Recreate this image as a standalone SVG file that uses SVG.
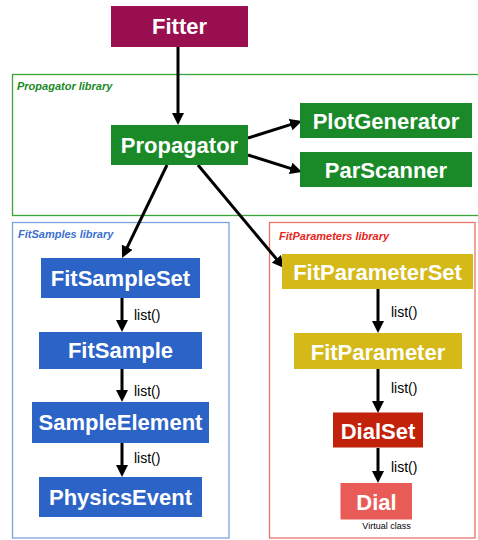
<svg xmlns="http://www.w3.org/2000/svg" width="478" height="540" viewBox="0 0 478 540">
<defs>
<marker id="ah" viewBox="0 0 12 12" refX="4" refY="6" markerWidth="12" markerHeight="12" markerUnits="userSpaceOnUse" orient="auto">
<path d="M0,0 L12,6 L0,12 z" fill="#000"/>
</marker>
<style>
.lib{fill:none;stroke-width:1.3}
.libt{font-family:"Liberation Sans",Arial,sans-serif;font-size:11px;font-weight:bold;font-style:italic}
.nt{font-family:"Liberation Sans",Arial,sans-serif;font-size:22px;font-weight:bold;fill:#fff;text-anchor:middle}
.lt{font-family:"Liberation Sans",Arial,sans-serif;font-size:14px;fill:#000}
.vc{font-family:"Liberation Sans",Arial,sans-serif;font-size:9px;fill:#000;text-anchor:middle}
.c line{stroke:#000;stroke-width:3;marker-end:url(#ah)}
</style>
</defs>
<rect width="478" height="540" fill="#fff"/>
<g id="propagator-library">
<rect class="lib" x="12.5" y="74.5" width="470" height="141" stroke="#3aa53a"/>
<text class="libt" x="17" y="90" fill="#1a8a26">Propagator library</text>
</g>
<g id="fitsamples-library">
<rect class="lib" x="12.5" y="222.5" width="216.5" height="315.5" stroke="#7ca3dd"/>
<text class="libt" x="18" y="238" fill="#3b70cf">FitSamples library</text>
</g>
<g id="fitparameters-library">
<rect class="lib" x="269.5" y="222.5" width="205.5" height="315.5" stroke="#e8776a"/>
<text class="libt" x="279" y="240" fill="#e8251b">FitParameters library</text>
</g>
<g class="c" id="connectors">
<line x1="178" y1="47" x2="178" y2="117"/>
<line x1="248" y1="138" x2="294.4" y2="123.4"/>
<line x1="248" y1="155" x2="294.4" y2="169.6"/>
<line x1="167" y1="165" x2="125.5" y2="250.8"/>
<line x1="198" y1="165" x2="278.9" y2="261.9"/>
<line x1="122" y1="298" x2="122" y2="324"/>
<line x1="122" y1="369" x2="122" y2="394"/>
<line x1="122" y1="443" x2="122" y2="469"/>
<line x1="378" y1="289" x2="378" y2="325"/>
<line x1="378" y1="369" x2="378" y2="405"/>
<line x1="378" y1="448" x2="378" y2="475"/>
</g>
<g id="connector-labels">
<text class="lt" x="134" y="320">list()</text>
<text class="lt" x="134" y="396">list()</text>
<text class="lt" x="134" y="463">list()</text>
<text class="lt" x="391" y="317">list()</text>
<text class="lt" x="391" y="393">list()</text>
<text class="lt" x="391" y="472">list()</text>
</g>
<g id="Fitter"><rect x="111" y="6" width="137" height="41" fill="#990f50"/><text class="nt" x="179.5" y="34">Fitter</text></g>
<g id="Propagator"><rect x="111" y="125" width="137" height="40" fill="#198a27"/><text class="nt" x="179.5" y="152.5">Propagator</text></g>
<g id="PlotGenerator"><rect x="300" y="103" width="172" height="35" fill="#198a27"/><text class="nt" x="386" y="129">PlotGenerator</text></g>
<g id="ParScanner"><rect x="300" y="152" width="172" height="35" fill="#198a27"/><text class="nt" x="386" y="178">ParScanner</text></g>
<g id="FitSampleSet"><rect x="41" y="258" width="159" height="40" fill="#2c63c7"/><text class="nt" x="120.5" y="286">FitSampleSet</text></g>
<g id="FitSample"><rect x="39" y="332" width="163" height="37" fill="#2c63c7"/><text class="nt" x="120.5" y="358">FitSample</text></g>
<g id="SampleElement"><rect x="32" y="402" width="177" height="41" fill="#2c63c7"/><text class="nt" x="120.5" y="430">SampleElement</text></g>
<g id="PhysicsEvent"><rect x="39" y="477" width="163" height="40" fill="#2c63c7"/><text class="nt" x="120.5" y="504.5">PhysicsEvent</text></g>
<g id="FitParameterSet"><rect x="282" y="254" width="191" height="35" fill="#d5b918"/><text class="nt" x="377.5" y="279.5">FitParameterSet</text></g>
<g id="FitParameter"><rect x="294" y="333" width="168" height="36" fill="#d5b918"/><text class="nt" x="378" y="359.5">FitParameter</text></g>
<g id="DialSet"><rect x="333" y="412.5" width="90" height="35" fill="#c2210a"/><text class="nt" x="378" y="438.5">DialSet</text></g>
<g id="Dial"><rect x="340.5" y="483" width="71.5" height="36.5" fill="#e95b56"/><text class="nt" x="376.5" y="509.5">Dial</text><text class="vc" x="386.5" y="529">Virtual class</text></g>
</svg>
